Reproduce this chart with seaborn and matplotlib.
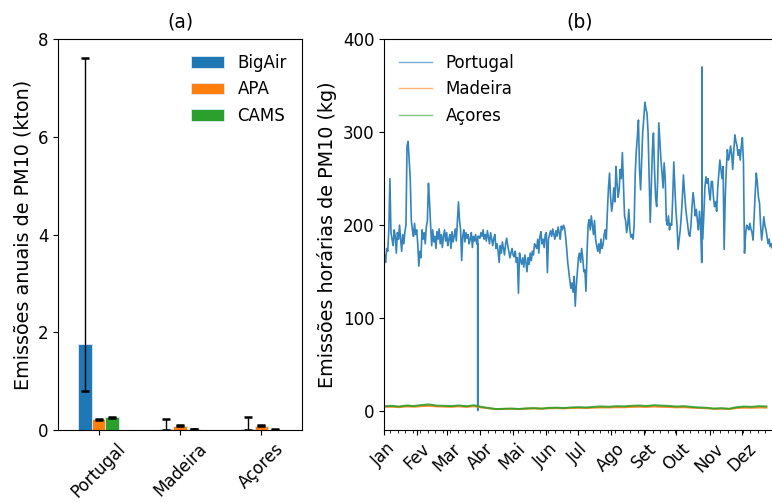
import numpy as np
import pandas as pd
import matplotlib
matplotlib.use("Agg")
import matplotlib.pyplot as plt
import matplotlib.dates as mdates
from matplotlib.ticker import FuncFormatter
import seaborn as sns

# ---------------- data: panel (a) ----------------
regions = ["Portugal", "Madeira", "Açores"]
sources = ["BigAir", "APA", "CAMS"]
bigair_vals = [1.75, 0.02, 0.03]
apa_vals = [0.22, 0.09, 0.09]
cams_vals = [0.26, 0.02, 0.01]
bigair_lo = [0.80, 0.0, 0.0]
bigair_hi = [7.62, 0.22, 0.27]
apa_lo = [0.21, 0.085, 0.085]
apa_hi = [0.225, 0.095, 0.095]
cams_lo = [0.25, 0.015, 0.005]
cams_hi = [0.265, 0.025, 0.015]

# ---------------- data: panel (b) ----------------
month_labels = ["Jan", "Fev", "Mar", "Abr", "Mai", "Jun",
                "Jul", "Ago", "Set", "Out", "Nov", "Dez"]

portugal_daily = [
    168, 160, 175, 172, 195, 250, 192, 185, 178, 195, 188, 170, 192, 185, 200, 185, 172, 190, 180, 193,
    200, 285, 290, 270, 250, 205, 195, 188, 202, 190, 195,
    180, 156, 172, 165, 195, 185, 192, 180, 198, 205, 245, 225, 200, 178, 195, 182, 188, 175, 193, 185,
    196, 180, 190, 176, 188, 195, 183, 192,
    178, 185, 190, 175, 193, 182, 188, 196, 183, 205, 225, 205, 195, 162, 188, 195, 182, 192, 186, 190,
    180, 185, 192, 176, 188, 183, 190, 180, 185, 188, 186,
    192, 188, 195, 185, 190, 183, 194, 187, 180, 192, 185, 178, 186, 190, 175, 180, 172, 160, 178, 170,
    182, 175, 168, 180, 186, 178, 172, 165, 170, 175,
    168, 166, 172, 160, 165, 127, 170, 162, 158, 165, 155, 168, 160, 150, 165, 158, 170, 162, 172, 168, 180,
    178, 175, 185, 170, 188, 193, 180, 185, 176, 190, 192,
    149, 185, 190, 194, 188, 196, 190, 185, 194, 188, 198, 192, 185, 199, 195, 200, 197, 188, 175, 160,
    150, 140, 132, 138, 128, 145, 113, 135, 150, 165,
    170, 160, 175, 165, 150, 152, 129, 170, 200, 206, 195, 210, 200, 190, 205, 185, 178, 172, 180, 170,
    185, 175, 179, 190, 195, 185, 215, 240, 256, 230, 215,
    224, 240, 225, 263, 245, 230, 238, 260, 250, 278, 245, 210, 205, 192, 200, 217, 195, 187, 190, 185,
    200, 256, 280, 295, 313, 260, 238, 270, 300, 315, 332, 325,
    320, 299, 250, 203, 240, 280, 299, 260, 230, 220, 250, 310, 290, 270, 256, 240, 267, 250, 205, 200,
    210, 195, 202, 200, 230, 268, 240, 215, 200, 174,
    185, 195, 210, 230, 254, 235, 220, 209, 200, 190, 188, 200, 220, 235, 225, 210, 217, 205, 195, 215,
    200, 160, 185, 210, 240, 252, 245, 250, 235, 227, 247,
    247, 230, 220, 225, 215, 240, 255, 270, 260, 250, 263, 174, 230, 260, 281, 270, 275, 285, 277, 260,
    280, 297, 290, 285, 275, 281, 270, 285, 294, 268, 170,
    190, 200, 198, 195, 202, 196, 192, 184, 210, 235, 256, 245, 230, 224, 200, 184, 195, 209, 200, 195,
    188, 180, 185, 177, 180, 175, 178, 172,
]
spike_times = ["2019-03-29 12:00", "2019-10-24 22:00"]
spike_vals = [1, 370]

acores_weekly = [5.5, 6.0, 5.2, 6.3, 5.8, 6.8, 7.5, 6.2, 6.0, 5.7, 6.4, 5.5, 6.6, 4.8, 3.5, 2.5, 2.8, 3.0,
                 2.6, 3.2, 3.5, 3.0, 3.8, 4.0, 3.6, 4.3, 4.5, 4.2, 4.9, 5.3, 5.0, 5.6, 5.4, 6.0, 6.3, 5.8,
                 6.6, 6.2, 5.9, 5.2, 5.6, 4.8, 4.2, 3.9, 3.0, 3.4, 2.8, 4.5, 5.2, 4.9, 5.6, 5.3]
madeira_weekly = [4.8, 5.0, 4.5, 5.3, 5.0, 5.6, 6.0, 5.3, 5.1, 4.9, 5.4, 4.8, 5.5, 4.2, 3.2, 2.4, 2.6, 2.8,
                  2.5, 2.9, 3.2, 2.8, 3.3, 3.5, 3.2, 3.6, 3.8, 3.6, 4.0, 4.3, 4.1, 4.5, 4.4, 4.8, 5.0, 4.7,
                  5.2, 4.9, 4.7, 4.3, 4.5, 4.0, 3.6, 3.4, 2.7, 3.0, 2.5, 3.6, 4.0, 3.8, 4.2, 4.0]

# ---------------- build tables ----------------
bars_df = pd.DataFrame({
    "region": regions * 3,
    "source": [s for s in sources for _ in regions],
    "value": bigair_vals + apa_vals + cams_vals,
})
lo_all = [bigair_lo, apa_lo, cams_lo]
hi_all = [bigair_hi, apa_hi, cams_hi]
vals_all = [bigair_vals, apa_vals, cams_vals]

pt_times = pd.date_range("2019-01-01 12:00", periods=len(portugal_daily), freq="D")
pt = pd.Series(portugal_daily, index=pt_times, dtype=float)
# neighbouring points around each hourly spike
extra = {}
for t, v in zip(spike_times, spike_vals):
    t = pd.Timestamp(t)
    extra[t] = v
for t in list(extra):
    before = pt[pt.index < t].iloc[-1]
    after = pt[pt.index > t].iloc[0]
    extra[t - pd.Timedelta(hours=1)] = before
    extra[t + pd.Timedelta(hours=1)] = after
pt = pd.concat([pt, pd.Series(extra, dtype=float)]).sort_index()
pt_df = pd.DataFrame({"time": pt.index, "value": pt.values})

wk_times = pd.date_range("2019-01-01", periods=len(acores_weekly), freq="7D")
isl_df = pd.DataFrame({"time": list(wk_times) * 2,
                       "value": madeira_weekly + acores_weekly,
                       "region": ["Madeira"] * len(wk_times) + ["Açores"] * len(wk_times)})

colors = ["#1f77b4", "#ff7f0e", "#2ca02c"]

# ---------------- figure ----------------
plt.rcParams["font.family"] = ["DejaVu Sans"]
plt.rcParams["font.size"] = 12
fig = plt.figure(figsize=(7.72, 5.03), dpi=100)
ax1 = fig.add_axes([58 / 772, 1 - 430 / 503, (302 - 58) / 772, (430 - 39) / 503])
ax2 = fig.add_axes([384 / 772, 1 - 430 / 503, (775 - 384) / 772, (430 - 39) / 503])

# panel (a)
sns.barplot(data=bars_df, x="region", y="value", hue="source", order=regions,
            hue_order=sources, palette=colors, saturation=1, width=0.5, errorbar=None,
            ax=ax1, edgecolor="#dfeaf5", linewidth=0.6)
for cont, vals, lo, hi in zip(ax1.containers, vals_all, lo_all, hi_all):
    xs = [b.get_x() + b.get_width() / 2 for b in cont]
    yerr = [[v - l for v, l in zip(vals, lo)], [h - v for v, h in zip(vals, hi)]]
    ax1.errorbar(xs, vals, yerr=yerr, fmt="none", ecolor="black", elinewidth=1,
                 capsize=3, capthick=1.8)
ax1.set_ylim(0, 8)
ax1.set_xlim(-0.5, 2.5)
ax1.set_yticks([0, 2, 4, 6, 8])
ax1.set_xlabel("")
ax1.set_ylabel("Emissões anuais de PM10 (kton)", fontsize=13.8)
ax1.set_title("(a)", fontsize=13.5, pad=8)
plt.setp(ax1.get_xticklabels(), rotation=45, ha="center")
ax1.legend(frameon=False, loc="upper right", fontsize=12, handlelength=2.0)

# panel (b)
sns.lineplot(data=pt_df, x="time", y="value", color=colors[0], lw=1.2, alpha=0.9,
             estimator=None, sort=True, ax=ax2, label="Portugal")
sns.lineplot(data=isl_df[isl_df.region == "Madeira"], x="time", y="value", color=colors[1],
             lw=1.4, alpha=0.9, estimator=None, ax=ax2, label="Madeira")
sns.lineplot(data=isl_df[isl_df.region == "Açores"], x="time", y="value", color=colors[2],
             lw=1.4, alpha=0.9, estimator=None, ax=ax2, label="Açores")
ax2.set_xlim(pd.Timestamp("2019-01-01"), pd.Timestamp("2019-12-31 23:00"))
ax2.set_ylim(-20, 400)
ax2.set_yticks([0, 100, 200, 300, 400])
ax2.xaxis.set_major_locator(mdates.MonthLocator())
ax2.xaxis.set_minor_locator(mdates.WeekdayLocator(byweekday=mdates.MO))
ax2.xaxis.set_major_formatter(FuncFormatter(lambda x, p: month_labels[mdates.num2date(x).month - 1]))
plt.setp(ax2.get_xticklabels(), rotation=45, ha="center")
ax2.set_xlabel("")
ax2.set_ylabel("Emissões horárias de PM10 (kg)", fontsize=13.8)
ax2.set_title("(b)", fontsize=13.5, pad=8)
leg = ax2.legend(frameon=False, loc="upper left", fontsize=12, handlelength=2.0)
for line in leg.get_lines():
    line.set_alpha(0.6)
    line.set_linewidth(1.0)

fig.savefig("out.png", dpi=100)
